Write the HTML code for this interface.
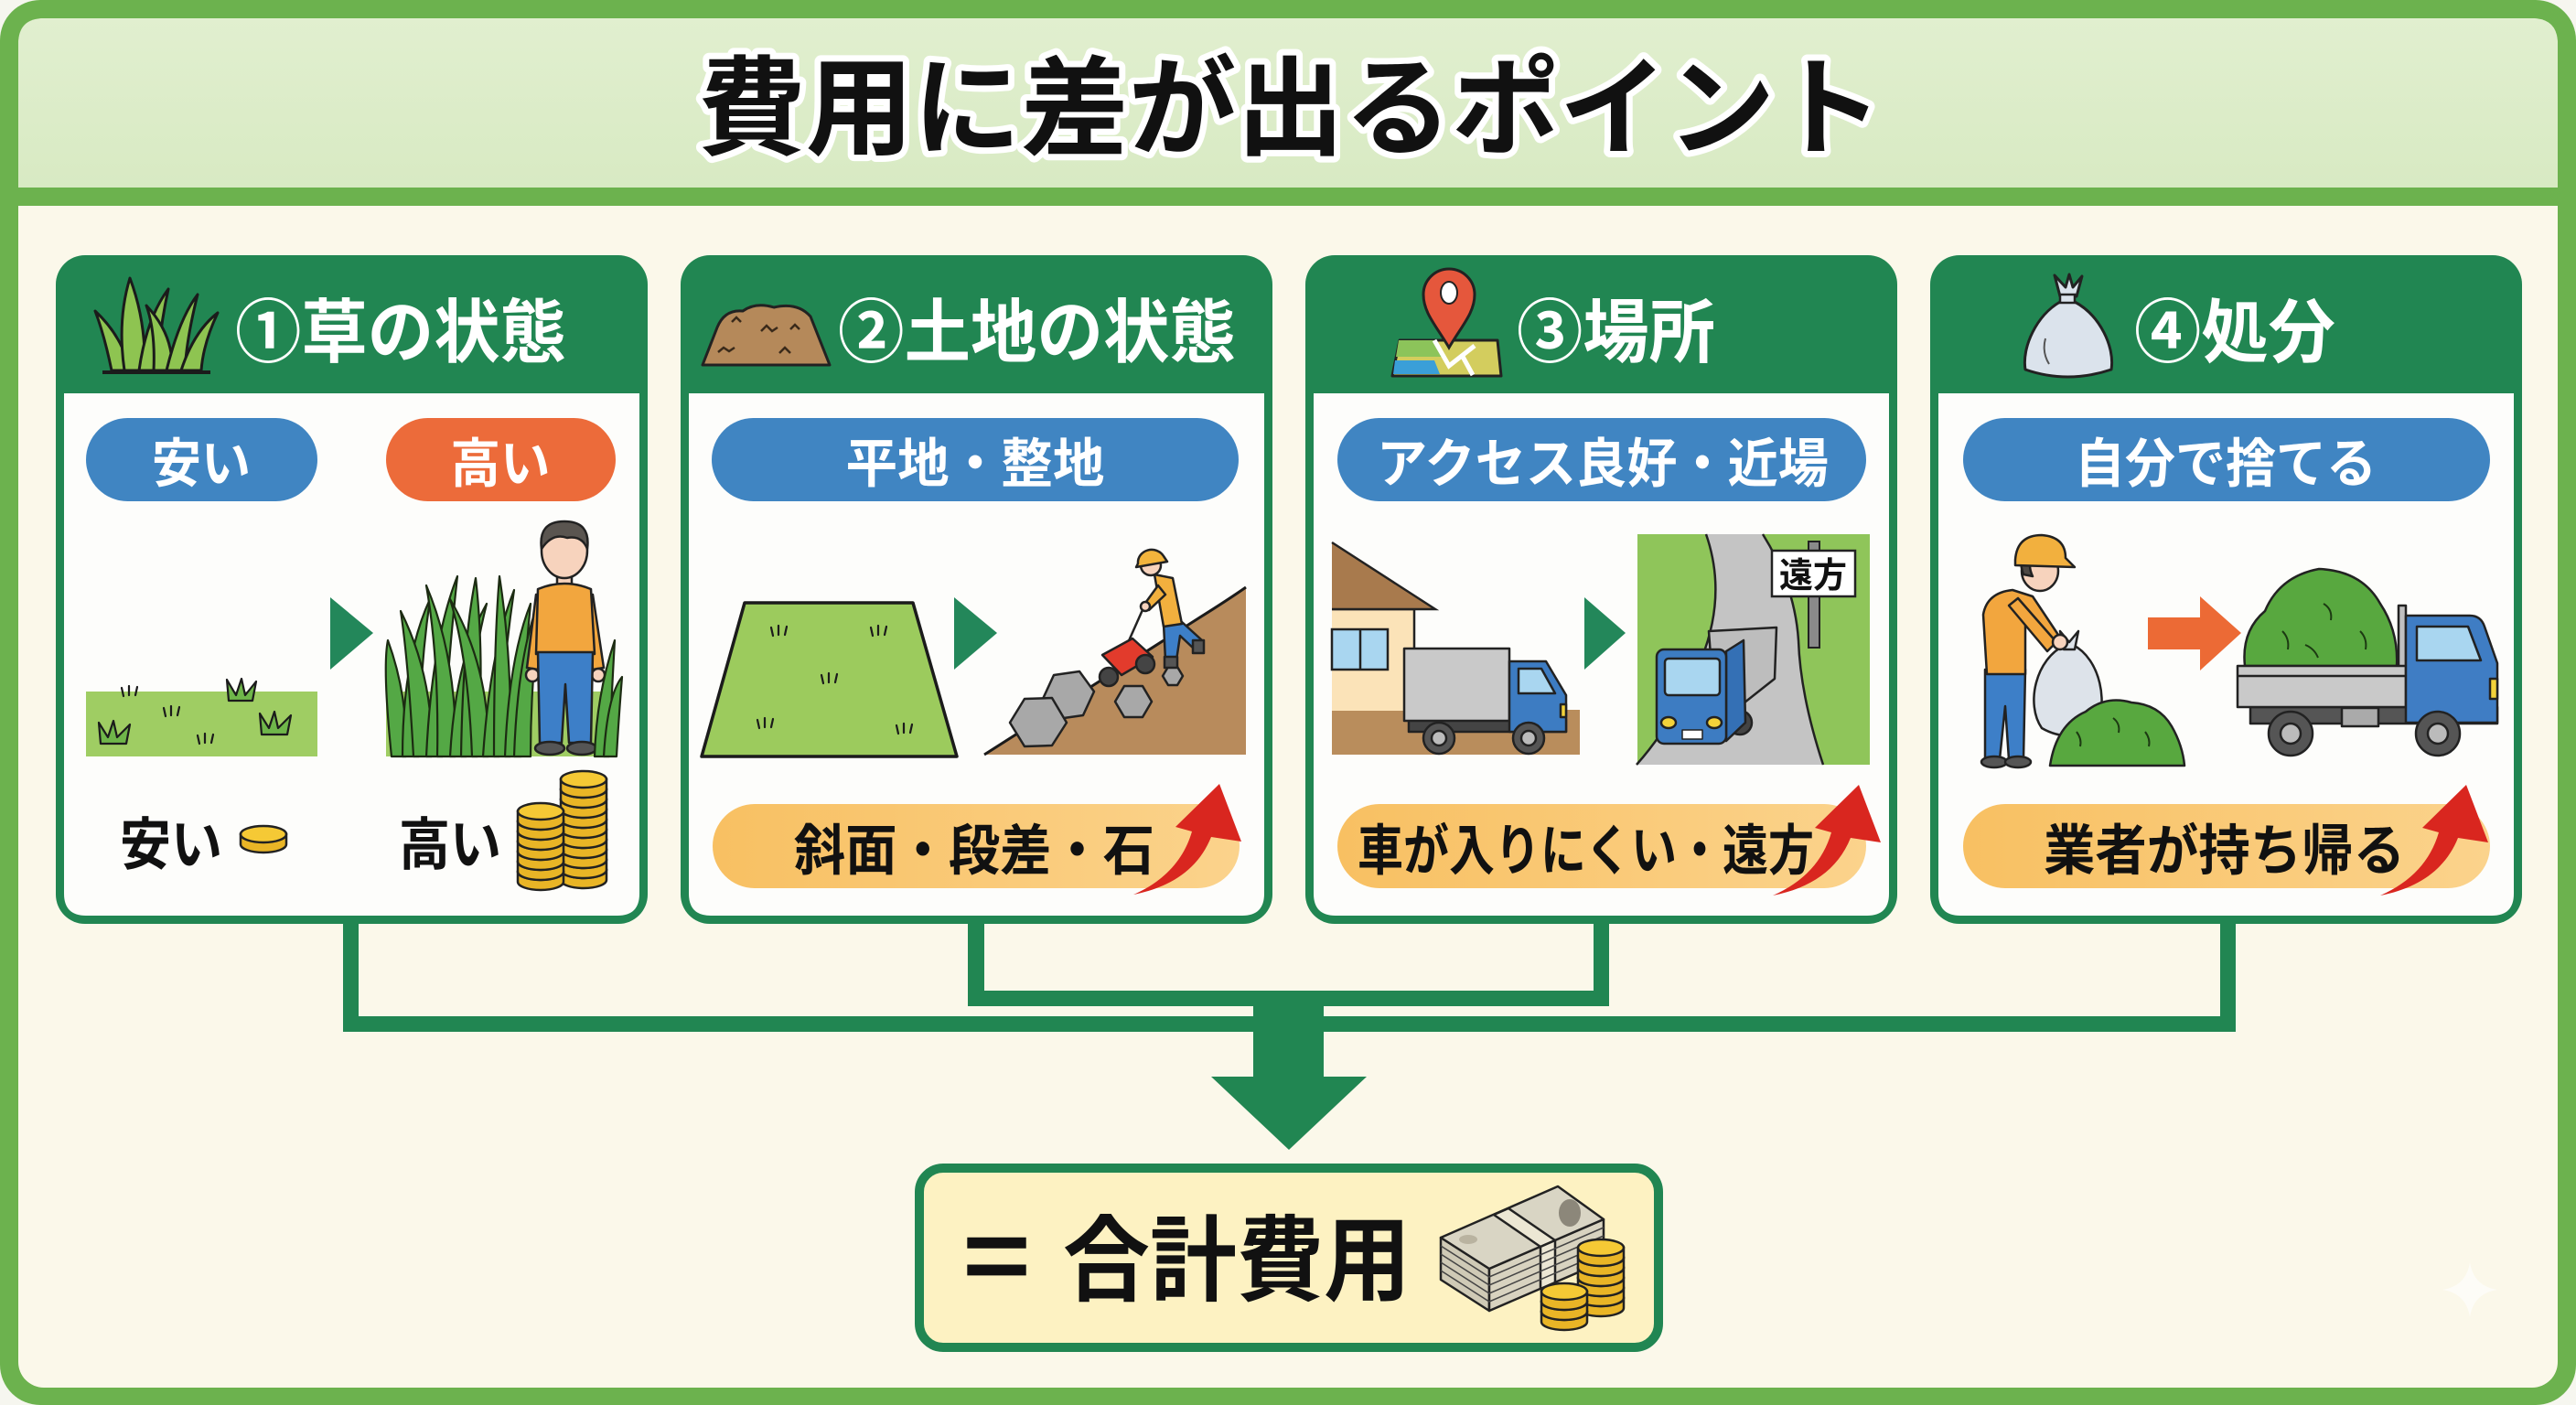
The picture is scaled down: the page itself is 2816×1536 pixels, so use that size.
<!DOCTYPE html>
<html lang="ja">
<head>
<meta charset="utf-8">
<style>
  html,body{margin:0;padding:0;background:#f6f6ef;}
  svg{display:block;}
  text{font-family:"Liberation Sans","Noto Sans CJK JP",sans-serif;font-weight:700;}
</style>
</head>
<body>
<svg xmlns="http://www.w3.org/2000/svg" xmlns:xlink="http://www.w3.org/1999/xlink" width="2816" height="1536" viewBox="0 0 2816 1536">
  <defs>
    <g id="coin">
      <path d="M-25 0 v11 a25 9 0 0 0 50 0 v-11 Z" fill="#e9b526" stroke="#222" stroke-width="2.5"/>
      <ellipse cx="0" cy="0" rx="25" ry="9" fill="#f5c935" stroke="#222" stroke-width="2.5"/>
    </g>
    <linearGradient id="bar" x1="0" y1="0" x2="1" y2="0">
      <stop offset="0" stop-color="#f8c062"/>
      <stop offset="1" stop-color="#fbd38c"/>
    </linearGradient>
    <linearGradient id="hdr" x1="0" y1="0" x2="0" y2="1">
      <stop offset="0" stop-color="#e1efcf"/>
      <stop offset="1" stop-color="#d8eac3"/>
    </linearGradient>
    <path id="redarrow" d="M0 0 C41 -8 71 -28 85 -63 L118 -58 L94 -121 L46 -74 L64 -69 C55 -38 34 -15 0 0 Z" fill="#d9261f"/>
  </defs>

  <!-- outer frame -->
  <rect x="0" y="0" width="2816" height="1536" rx="44" fill="#6cb24e"/>
  <rect x="20" y="20" width="2776" height="1497" rx="28" fill="#fbf8ea"/>
  <path d="M20 205 V48 Q20 20 48 20 H2768 Q2796 20 2796 48 V205 Z" fill="url(#hdr)"/>
  <rect x="20" y="205" width="2776" height="20" fill="#6cb24e"/>

  <!-- title -->
  <text x="763" y="160" font-size="118" font-weight="900" fill="#111" stroke="#ffffff" stroke-width="14" stroke-linejoin="round" paint-order="stroke" textLength="1295" lengthAdjust="spacingAndGlyphs">費用に差が出るポイント</text>

  <!-- ===== cards ===== -->
  <!-- card 1 -->
  <rect x="61" y="279" width="647" height="731" rx="32" fill="#218652"/>
  <path d="M70 430 H699 V977 Q699 1001 675 1001 H94 Q70 1001 70 977 Z" fill="#fdfdfb"/>
  <!-- card 2 -->
  <rect x="744" y="279" width="647" height="731" rx="32" fill="#218652"/>
  <path d="M753 430 H1382 V977 Q1382 1001 1358 1001 H777 Q753 1001 753 977 Z" fill="#fdfdfb"/>
  <!-- card 3 -->
  <rect x="1427" y="279" width="647" height="731" rx="32" fill="#218652"/>
  <path d="M1436 430 H2065 V977 Q2065 1001 2041 1001 H1460 Q1436 1001 1436 977 Z" fill="#fdfdfb"/>
  <!-- card 4 -->
  <rect x="2110" y="279" width="647" height="731" rx="32" fill="#218652"/>
  <path d="M2119 430 H2748 V977 Q2748 1001 2724 1001 H2143 Q2119 1001 2119 977 Z" fill="#fdfdfb"/>

  <!-- card header icons -->
  <!-- grass icon -->
  <g stroke="#1b1b1b" stroke-width="3" stroke-linejoin="round" fill="#8ec451">
    <path d="M122 405 Q114 366 104 340 Q134 368 142 405 Z"/>
    <path d="M136 405 Q128 350 142 304 Q160 352 158 405 Z"/>
    <path d="M152 405 Q160 348 184 316 Q174 362 172 405 Z"/>
    <path d="M168 405 Q170 362 160 334 Q190 366 188 405 Z"/>
    <path d="M182 405 Q196 348 216 322 Q204 370 202 405 Z"/>
    <path d="M198 405 Q212 362 238 342 Q222 376 220 405 Z"/>
  </g>
  <line x1="112" y1="407" x2="230" y2="407" stroke="#1b1b1b" stroke-width="4"/>
  <!-- mound icon -->
  <path d="M768 399 L784 358 Q792 338 812 340 Q826 330 846 336 Q872 330 886 346 L907 399 Z" fill="#b5895a" stroke="#222" stroke-width="3" stroke-linejoin="round"/>
  <g fill="none" stroke="#3a2a1a" stroke-width="2.5">
    <path d="M800 352 l5 -5 l5 5"/><path d="M832 362 l6 -6 l6 6 l6 -4"/><path d="M864 360 l5 -5 l5 5"/>
    <path d="M785 385 l6 -5 l6 4 l6 -4"/><path d="M852 386 l6 -6 l6 6"/>
  </g>
  <!-- map pin icon -->
  <polygon points="1530,372 1637,372 1641,411 1522,411" fill="#d3cd5e" stroke="#222" stroke-width="3" stroke-linejoin="round"/>
  <polygon points="1529,372 1568,372 1576,390 1526,390" fill="#8cc45a"/>
  <polygon points="1525,394 1568,394 1574,409 1523,409" fill="#3a9fd8"/>
  <path d="M1568 372 L1584 400 L1612 378 M1598 388 L1610 410" stroke="#fff" stroke-width="5" fill="none"/>
  <path d="M1584 380 C1570 356 1556 342 1556 322 A28 28 0 1 1 1612 322 C1612 342 1598 356 1584 380 Z" fill="#e5573c" stroke="#222" stroke-width="3"/>
  <ellipse cx="1584" cy="320" rx="9" ry="12" fill="#fff" stroke="#222" stroke-width="2"/>
  <!-- bag icon -->
  <path d="M2252 330 C2226 345 2210 380 2214 404 Q2260 420 2308 404 C2312 380 2296 345 2268 330 Z" fill="#dbe3ec" stroke="#222" stroke-width="3" stroke-linejoin="round"/>
  <path d="M2246 301 L2258 314 L2262 300 L2266 314 L2276 302 L2270 324 L2252 324 Z" fill="#dbe3ec" stroke="#222" stroke-width="3" stroke-linejoin="round"/>
  <rect x="2252" y="322" width="16" height="9" fill="#dbe3ec" stroke="#222" stroke-width="2.5"/>
  <path d="M2236 370 Q2232 385 2240 398" stroke="#555" stroke-width="2" fill="none"/>

  <!-- card header titles -->
  <g fill="#ffffff" font-size="76">
    <text x="257" y="390" textLength="362" lengthAdjust="spacingAndGlyphs">①草の状態</text>
    <text x="916" y="390" textLength="435" lengthAdjust="spacingAndGlyphs">②土地の状態</text>
    <text x="1658" y="390" textLength="217" lengthAdjust="spacingAndGlyphs">③場所</text>
    <text x="2333" y="390" textLength="220" lengthAdjust="spacingAndGlyphs">④処分</text>
  </g>

  <!-- pills -->
  <rect x="94" y="457" width="253" height="91" rx="45.5" fill="#4085c2"/>
  <rect x="422" y="457" width="251" height="91" rx="45.5" fill="#ec6b3a"/>
  <rect x="778" y="457" width="576" height="91" rx="45.5" fill="#4085c2"/>
  <rect x="1462" y="457" width="578" height="91" rx="45.5" fill="#4085c2"/>
  <rect x="2146" y="457" width="576" height="91" rx="45.5" fill="#4085c2"/>
  <g fill="#ffffff" font-size="58" text-anchor="middle">
    <text x="220" y="527" textLength="108" lengthAdjust="spacingAndGlyphs">安い</text>
    <text x="547" y="527" textLength="109" lengthAdjust="spacingAndGlyphs">高い</text>
    <text x="1066" y="527" textLength="283" lengthAdjust="spacingAndGlyphs">平地・整地</text>
    <text x="1752" y="527" textLength="494" lengthAdjust="spacingAndGlyphs">アクセス良好・近場</text>
    <text x="2433" y="527" textLength="330" lengthAdjust="spacingAndGlyphs">自分で捨てる</text>
  </g>

  <!-- ===== card 1 illustration ===== -->
  <rect x="94" y="756" width="253" height="71" fill="#9fcd63"/>
  <g stroke="#1b1b1b" stroke-width="2.2" fill="none" stroke-linecap="round">
    <path d="M133 752 l2 9 M141 750 l0 10 M150 751 l-2 9"/>
    <path d="M179 774 l2 9 M187 772 l0 10 M196 773 l-2 9"/>
    <path d="M216 804 l2 9 M224 802 l0 10 M233 803 l-2 9"/>
  </g>
  <g stroke="#1b1b1b" stroke-width="2.2" fill="#6fb64a" stroke-linejoin="round">
    <path d="M250 766 L248 743 L258 760 L264 742 L268 760 L280 745 L276 766 Z"/>
    <path d="M110 813 L108 790 L118 806 L124 788 L128 806 L142 792 L138 813 Z"/>
    <path d="M286 803 L284 780 L294 796 L300 778 L304 796 L318 782 L314 803 Z"/>
  </g>
  <polygon points="361,653 361,732 408,692" fill="#23875a"/>
  <rect x="422" y="756" width="253" height="71" fill="#9fcd63"/>
  <g fill="#54a845" stroke="#1c2b12" stroke-width="2.2" stroke-linejoin="round">
    <path d="M428 827 Q418 730 424 700 Q446 760 444 827 Z"/>
    <path d="M440 827 Q440 720 470 655 Q458 740 458 827 Z"/>
    <path d="M452 827 Q446 720 438 668 Q474 740 472 827 Z"/>
    <path d="M466 827 Q472 700 500 630 Q490 720 484 827 Z"/>
    <path d="M478 827 Q480 720 466 640 Q500 720 498 827 Z"/>
    <path d="M492 827 Q498 720 532 660 Q512 740 510 827 Z"/>
    <path d="M504 827 Q506 700 520 632 Q530 720 522 827 Z"/>
    <path d="M516 827 Q512 720 492 655 Q536 730 534 827 Z"/>
    <path d="M528 827 Q536 710 562 645 Q548 740 546 827 Z"/>
    <path d="M540 827 Q540 700 546 630 Q560 720 558 827 Z"/>
    <path d="M552 827 Q556 720 580 660 Q572 740 570 827 Z"/>
    <path d="M562 827 Q566 710 592 650 Q580 740 580 827 Z"/>
  </g>
  <!-- person -->
  <g stroke="#222" stroke-width="2.5" stroke-linejoin="round">
    <path d="M586 650 L576 730 L588 732 L596 665 Z" fill="#f2a63e"/>
    <path d="M648 650 L660 730 L648 732 L640 665 Z" fill="#f2a63e"/>
    <rect x="609" y="626" width="16" height="16" fill="#f7d3bd"/>
    <path d="M588 644 Q617 632 646 644 L650 715 L586 715 Z" fill="#f2a63e"/>
    <circle cx="582" cy="738" r="7" fill="#f7d3bd"/>
    <circle cx="654" cy="738" r="7" fill="#f7d3bd"/>
    <path d="M588 713 H648 L646 812 H622 L618 748 L614 812 H590 Z" fill="#3d7fc8"/>
    <ellipse cx="601" cy="818" rx="16" ry="7" fill="#555"/>
    <ellipse cx="636" cy="818" rx="16" ry="7" fill="#555"/>
    <ellipse cx="617" cy="602" rx="25" ry="30" fill="#f7d3bd"/>
    <path d="M592 600 Q588 570 617 570 Q646 570 642 600 Q636 585 620 588 Q604 582 592 600 Z" fill="#5a5550"/>
  </g>
  <g fill="#54a845" stroke="#1c2b12" stroke-width="2.2" stroke-linejoin="round">
    <path d="M650 827 Q652 760 672 700 Q668 770 666 827 Z"/>
    <path d="M660 827 Q664 760 680 740 Q676 790 674 827 Z"/>
  </g>
  <!-- card 1 bottom -->
  <g fill="#111" font-size="62">
    <text x="131" y="945" textLength="112" lengthAdjust="spacingAndGlyphs">安い</text>
    <text x="436" y="945" textLength="112" lengthAdjust="spacingAndGlyphs">高い</text>
  </g>
  <use href="#coin" x="288" y="912"/>
  <g>
    <use href="#coin" x="638" y="951"/><use href="#coin" x="638" y="940"/><use href="#coin" x="638" y="929"/>
    <use href="#coin" x="638" y="918"/><use href="#coin" x="638" y="907"/><use href="#coin" x="638" y="896"/>
    <use href="#coin" x="638" y="885"/><use href="#coin" x="638" y="874"/><use href="#coin" x="638" y="863"/>
    <use href="#coin" x="638" y="852"/>
    <use href="#coin" x="591" y="953"/><use href="#coin" x="591" y="942"/><use href="#coin" x="591" y="931"/>
    <use href="#coin" x="591" y="920"/><use href="#coin" x="591" y="909"/><use href="#coin" x="591" y="898"/>
    <use href="#coin" x="591" y="887"/>
  </g>

  <!-- ===== card 2 illustration ===== -->
  <polygon points="814,659 998,659 1046,827 767,827" fill="#9ccb5d" stroke="#1b1b1b" stroke-width="3.5" stroke-linejoin="round"/>
  <g stroke="#1b1b1b" stroke-width="2.2" fill="none" stroke-linecap="round">
    <path d="M843 686 l2 9 M851 684 l0 10 M860 685 l-2 9"/>
    <path d="M952 686 l2 9 M960 684 l0 10 M969 685 l-2 9"/>
    <path d="M898 738 l2 9 M906 736 l0 10 M915 737 l-2 9"/>
    <path d="M828 787 l2 9 M836 785 l0 10 M845 786 l-2 9"/>
    <path d="M980 793 l2 9 M988 791 l0 10 M997 792 l-2 9"/>
  </g>
  <polygon points="1043,653 1043,732 1090,692" fill="#23875a"/>
  <path d="M1076 825 L1310 676 Q1342 656 1362 642 L1362 825 Z" fill="#b88b5c"/>
  <path d="M1076 825 L1310 676 Q1342 656 1362 642" fill="none" stroke="#1b1b1b" stroke-width="3"/>
  <g fill="#a8a8a8" stroke="#222" stroke-width="2.5" stroke-linejoin="round">
    <polygon points="1196,756 1184,782 1156,786 1140,764 1152,738 1180,734"/>
    <polygon points="1166,790 1150,815 1120,816 1104,790 1120,764 1150,763"/>
    <polygon points="1259,767 1249,784 1229,784 1219,767 1229,750 1249,750"/>
    <polygon points="1293,739 1287,749 1277,749 1271,739 1277,729 1287,729"/>
  </g>
  <!-- mower + worker -->
  <g stroke="#222" stroke-width="2.5" stroke-linejoin="round">
    <line x1="1232" y1="705" x2="1252" y2="660" fill="none"/>
    <polygon points="1205,716 1238,698 1260,718 1226,738" fill="#e23b2c"/>
    <circle cx="1212" cy="740" r="10" fill="#444"/>
    <circle cx="1252" cy="726" r="10" fill="#444"/>
    <path d="M1272 682 L1292 680 L1314 700 L1306 710 L1290 695 L1286 722 L1274 722 Z" fill="#3d7fc8"/>
    <rect x="1273" y="718" width="14" height="12" fill="#555"/>
    <rect x="1304" y="700" width="12" height="14" fill="#555"/>
    <path d="M1262 628 L1282 632 L1292 682 L1272 685 Z" fill="#f2b03e"/>
    <path d="M1266 640 L1250 662 L1256 667 L1274 650 Z" fill="#f2b03e"/>
    <circle cx="1252" cy="663" r="5" fill="#f7d3bd"/>
    <circle cx="1258" cy="618" r="11" fill="#f7d3bd"/>
    <path d="M1244 616 A15 14 0 0 1 1272 608 L1276 614 L1242 620 Z" fill="#f2b43c"/>
  </g>
  <!-- card 2 bar -->
  <rect x="779" y="879" width="576" height="92" rx="46" fill="url(#bar)"/>
  <text x="868" y="951" font-size="60" fill="#111" textLength="394" lengthAdjust="spacingAndGlyphs">斜面・段差・石</text>
  <use href="#redarrow" x="1239" y="978"/>

  <!-- ===== card 3 illustration ===== -->
  <rect x="1456" y="776" width="271" height="49" fill="#b98d5c"/>
  <rect x="1456" y="666" width="90" height="111" fill="#fbe3b8"/>
  <path d="M1456 666 H1546 V777" fill="none" stroke="#222" stroke-width="2.5"/>
  <polygon points="1456,593 1569,666 1456,666" fill="#a87a4d"/>
  <path d="M1456 593 L1569 666 H1456" fill="none" stroke="#222" stroke-width="2.5"/>
  <rect x="1456" y="688" width="61" height="44" fill="#a9d6f0" stroke="#222" stroke-width="2.5"/>
  <line x1="1487" y1="688" x2="1487" y2="732" stroke="#222" stroke-width="2.5"/>
  <g stroke="#222" stroke-width="2.5" stroke-linejoin="round">
    <rect x="1540" y="786" width="172" height="14" fill="#444"/>
    <rect x="1535" y="709" width="115" height="79" fill="#c9c9c9"/>
    <path d="M1650 723 H1690 L1712 760 V800 H1650 Z" fill="#3d7cc2"/>
    <path d="M1660 731 H1685 L1700 758 H1660 Z" fill="#a9d6f0"/>
    <rect x="1706" y="770" width="6" height="14" fill="#f3d23a"/>
    <circle cx="1573" cy="807" r="17" fill="#555"/>
    <circle cx="1573" cy="807" r="8" fill="#bbb"/>
    <circle cx="1671" cy="807" r="17" fill="#555"/>
    <circle cx="1671" cy="807" r="8" fill="#bbb"/>
  </g>
  <polygon points="1732,653 1732,732 1777,692" fill="#23875a"/>
  <rect x="1790" y="584" width="254" height="252" fill="#8fc55a"/>
  <path d="M1865 584 Q1888 650 1860 720 Q1830 790 1789 836 H1993 Q1968 760 1966 700 Q1962 640 1927 584 Z" fill="#c4c4c4"/>
  <path d="M1865 584 Q1888 650 1860 720 Q1830 790 1789 836 M1927 584 Q1962 640 1966 700 Q1968 760 1993 836" fill="none" stroke="#222" stroke-width="2.5"/>
  <rect x="1977" y="592" width="12" height="116" fill="#8a8a8a" stroke="#222" stroke-width="2"/>
  <rect x="1937" y="602" width="91" height="50" fill="#fff" stroke="#222" stroke-width="2.5"/>
  <text x="1982" y="642" font-size="38" fill="#111" text-anchor="middle" textLength="74" lengthAdjust="spacingAndGlyphs">遠方</text>
  <g stroke="#222" stroke-width="2.5" stroke-linejoin="round">
    <polygon points="1868,690 1942,686 1940,742 1902,772 1872,744" fill="#bdbdbd"/>
    <circle cx="1902" cy="790" r="13" fill="#444"/>
    <path d="M1887 712 L1906 700 L1908 790 L1887 810 Z" fill="#3470b5"/>
    <rect x="1811" y="710" width="76" height="103" rx="8" fill="#3d7cc2"/>
    <rect x="1820" y="720" width="60" height="40" rx="4" fill="#a9d6f0"/>
    <ellipse cx="1824" cy="790" rx="8" ry="6" fill="#f3d23a"/>
    <ellipse cx="1874" cy="790" rx="8" ry="6" fill="#f3d23a"/>
    <rect x="1839" y="798" width="22" height="10" fill="#fff" stroke-width="1.5"/>
  </g>
  <!-- card 3 bar -->
  <rect x="1462" y="879" width="578" height="92" rx="46" fill="url(#bar)"/>
  <text x="1484" y="951" font-size="60" fill="#111" textLength="499" lengthAdjust="spacingAndGlyphs">車が入りにくい・遠方</text>
  <use href="#redarrow" x="1938" y="979"/>

  <!-- ===== card 4 illustration ===== -->
  <g stroke="#222" stroke-width="2.5" stroke-linejoin="round">
    <path d="M2170 732 H2214 L2212 830 H2196 L2192 772 L2186 830 H2170 Z" fill="#3d7fc8"/>
    <ellipse cx="2180" cy="833" rx="14" ry="6" fill="#555"/>
    <ellipse cx="2206" cy="833" rx="14" ry="6" fill="#555"/>
    <path d="M2172 737 L2168 672 Q2172 648 2200 645 L2222 652 L2250 694 L2240 706 L2214 680 L2214 737 Z" fill="#f2a63e"/>
    <path d="M2196 662 L2238 712 L2248 702 L2206 654 Z" fill="#f2a63e"/>
    <ellipse cx="2230" cy="624" rx="20" ry="22" fill="#f7d3bd"/>
    <path d="M2212 628 Q2206 612 2214 604 L2222 606 Q2216 618 2222 630 Z" fill="#4d4945"/>
    <path d="M2203 612 Q2205 585 2232 585 Q2258 587 2258 610 L2268 620 L2203 618 Z" fill="#f2b03e"/>
    <path d="M2258 705 C2225 720 2214 770 2232 796 Q2260 812 2290 798 C2306 770 2296 720 2266 705 Z" fill="#dde3ea"/>
    <path d="M2252 690 L2262 702 L2272 690 L2268 710 L2256 710 Z" fill="#dde3ea"/>
    <circle cx="2252" cy="702" r="8" fill="#f7d3bd"/>
    <path d="M2241 837 Q2248 792 2280 778 Q2302 760 2330 768 Q2360 770 2374 794 Q2386 815 2388 837 Z" fill="#58a83f"/>
  </g>
  <g stroke="#1c3a12" stroke-width="2" fill="none">
    <path d="M2270 800 q6 8 4 16"/><path d="M2310 785 q8 6 6 16"/><path d="M2345 800 q6 8 4 16"/>
  </g>
  <polygon points="2348,675 2405,675 2405,652 2450,692 2405,733 2405,710 2348,710" fill="#ec6a35"/>
  <g stroke="#222" stroke-width="2.5" stroke-linejoin="round">
    <path d="M2454 728 Q2450 690 2476 668 Q2492 630 2535 622 Q2582 624 2602 660 Q2622 690 2620 728 Z" fill="#58a83f"/>
    <rect x="2622" y="662" width="8" height="68" fill="#c0c0c0"/>
    <rect x="2460" y="773" width="270" height="18" fill="#555"/>
    <rect x="2446" y="728" width="184" height="45" fill="#c9c9c9"/>
    <line x1="2446" y1="739" x2="2630" y2="739"/>
    <rect x="2560" y="774" width="40" height="20" fill="#aaa"/>
    <path d="M2630 673 H2700 Q2712 673 2716 685 L2730 725 V790 H2630 Z" fill="#3f7dc4"/>
    <path d="M2642 685 H2698 L2712 722 H2642 Z" fill="#a9d6f0"/>
    <rect x="2722" y="742" width="8" height="22" fill="#f3d23a"/>
    <circle cx="2504" cy="802" r="24" fill="#555"/>
    <circle cx="2504" cy="802" r="11" fill="#bbb"/>
    <circle cx="2665" cy="802" r="24" fill="#555"/>
    <circle cx="2665" cy="802" r="11" fill="#bbb"/>
  </g>
  <g stroke="#1c3a12" stroke-width="2" fill="none">
    <path d="M2495 690 q8 8 6 20"/><path d="M2540 660 q10 6 8 18"/><path d="M2580 690 q8 8 6 20"/><path d="M2520 705 q10 4 14 14"/>
  </g>
  <!-- card 4 bar -->
  <rect x="2146" y="879" width="576" height="92" rx="46" fill="url(#bar)"/>
  <text x="2234" y="951" font-size="60" fill="#111" textLength="395" lengthAdjust="spacingAndGlyphs">業者が持ち帰る</text>
  <use href="#redarrow" x="2602" y="979"/>

  <!-- ===== connectors ===== -->
  <g fill="#218652">
    <rect x="375" y="1008" width="17" height="120"/>
    <rect x="2427" y="1008" width="17" height="120"/>
    <rect x="375" y="1111" width="2069" height="17"/>
    <rect x="1058" y="1008" width="18" height="92"/>
    <rect x="1742" y="1008" width="17" height="92"/>
    <rect x="1058" y="1083" width="701" height="17"/>
    <rect x="1370" y="1083" width="77" height="96"/>
    <polygon points="1324,1177 1494,1177 1409,1257"/>
  </g>

  <!-- ===== total box ===== -->
  <rect x="1005" y="1277" width="808" height="196" rx="26" fill="#fdf2c2" stroke="#218652" stroke-width="10"/>
  <text x="1052" y="1410" font-size="110" fill="#111" font-family="Liberation Sans, sans-serif" textLength="75" lengthAdjust="spacingAndGlyphs">=</text>
  <text x="1162" y="1414" font-size="102" fill="#111" textLength="380" lengthAdjust="spacingAndGlyphs">合計費用</text>
  <!-- money icon -->
  <g stroke="#222" stroke-width="2.5" stroke-linejoin="round">
    <polygon points="1575,1353 1628,1387 1628,1433 1575,1399" fill="#cfcab6"/>
    <polygon points="1628,1387 1753,1333 1753,1379 1628,1433" fill="#d8d3c0"/>
    <polygon points="1575,1353 1703,1297 1753,1333 1628,1387" fill="#d9d5c4"/>
    <polygon points="1633,1328 1649,1321 1700,1356 1684,1363" fill="#ece7d4"/>
    <polygon points="1684,1363 1700,1356 1700,1402 1684,1409" fill="#ece7d4"/>
  </g>
  <g stroke="#444" stroke-width="1.5" fill="none">
    <path d="M1575 1362 L1628 1396 L1753 1342"/>
    <path d="M1575 1371 L1628 1405 L1753 1351"/>
    <path d="M1575 1380 L1628 1414 L1753 1360"/>
    <path d="M1575 1389 L1628 1423 L1753 1369"/>
  </g>
  <ellipse cx="1716" cy="1326" rx="12" ry="15" fill="#8c877a"/>
  <ellipse cx="1605" cy="1355" rx="10" ry="5" fill="#b9b3a0"/>
  <g>
    <use href="#coin" x="1750" y="1419"/><use href="#coin" x="1750" y="1408"/><use href="#coin" x="1750" y="1397"/>
    <use href="#coin" x="1750" y="1386"/><use href="#coin" x="1750" y="1375"/><use href="#coin" x="1750" y="1364"/>
    <use href="#coin" x="1710" y="1434"/><use href="#coin" x="1710" y="1423"/><use href="#coin" x="1710" y="1412"/>
  </g>

  <!-- faint sparkle -->
  <path d="M2700 1380 Q2704 1406 2730 1410 Q2704 1414 2700 1440 Q2696 1414 2670 1410 Q2696 1406 2700 1380 Z" fill="#ffffff" opacity="0.6"/>
</svg>
</body>
</html>
